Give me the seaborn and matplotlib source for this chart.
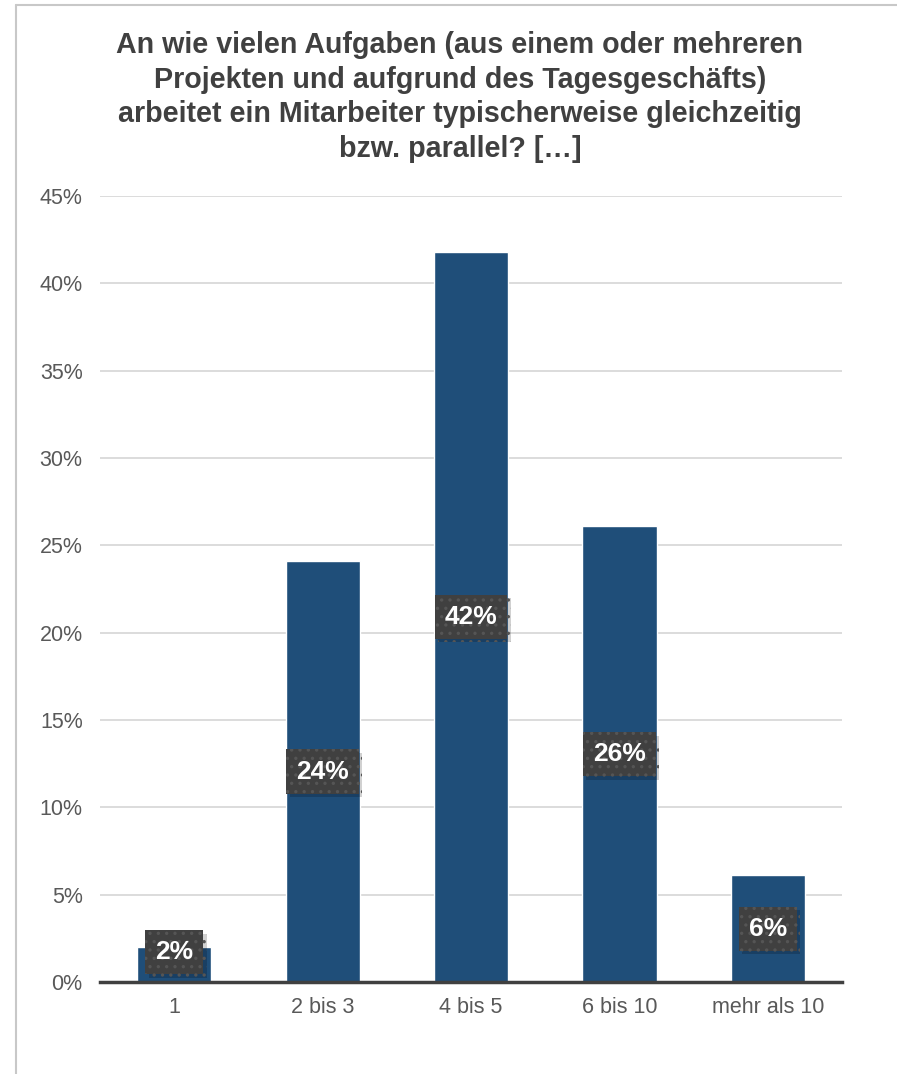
import seaborn as sns
from matplotlib import pyplot as plt
from matplotlib.lines import Line2D
from matplotlib import patheffects as pe
import pandas as pd

categories = ["1", "2 bis 3", "4 bis 5", "6 bis 10", "mehr als 10"]
shares = [2.0, 24.1, 41.8, 26.1, 6.1]
labels = ["2%", "24%", "42%", "26%", "6%"]
yticks = [0, 5, 10, 15, 20, 25, 30, 35, 40, 45]

title = ("An wie vielen Aufgaben (aus einem oder mehreren\n"
         "Projekten und aufgrund des Tagesgeschäfts)\n"
         "arbeitet ein Mitarbeiter typischerweise gleichzeitig\n"
         "bzw. parallel? […]")

df = pd.DataFrame({"cat": categories, "share": shares})

sns.set_theme(style="white")
plt.rcParams["font.family"] = ["Liberation Sans", "DejaVu Sans"]
plt.rcParams["hatch.linewidth"] = 1.2

W, H = 897, 1074
fig = plt.figure(figsize=(W / 100, H / 100), dpi=100)
ax = fig.add_axes([100 / W, 1 - 982 / H, 742 / W, (982 - 196) / H])

sns.barplot(data=df, x="cat", y="share", color="#1f4e79", width=0.5,
            saturation=1, ax=ax, zorder=3)

ax.set_ylim(0, 45)
ax.set_xlim(-0.5, 4.5)
ax.set_yticks(yticks)
ax.set_yticklabels([f"{t}%" for t in yticks], color="#595959", fontsize=15.5)
ax.set_xticklabels(categories, color="#595959", fontsize=15.5)
ax.set_xlabel("")
ax.set_ylabel("")
ax.yaxis.grid(True, color="#d9d9d9", linewidth=1.3, zorder=0)
ax.tick_params(axis="y", length=0, pad=12.5)
ax.tick_params(axis="x", which="major", length=0, pad=11)
ax.set_xticks([i - 0.5 for i in range(6)], minor=True)
ax.tick_params(axis="x", which="minor", length=5, width=2.5, color="#404040",
               direction="out")
for s in ["top", "right", "left"]:
    ax.spines[s].set_visible(False)
ax.spines["bottom"].set_color("#404040")
ax.spines["bottom"].set_linewidth(2.5)
ax.spines["bottom"].set_zorder(4)

for i, (v, lab) in enumerate(zip(shares, labels)):
    y = max(v / 2, 1.7)
    t = ax.text(i, y, lab, ha="center", va="center", fontsize=19,
                fontweight="bold", color="white", zorder=6,
                bbox=dict(boxstyle="square,pad=0.38", fc="#404040",
                          ec="#555555", lw=0, hatch=".."))
    t.get_bbox_patch().set_path_effects([
        pe.SimplePatchShadow(offset=(2.5, -2.5), shadow_rgbFace="black",
                             alpha=0.18),
        pe.Normal(),
    ])

fig.text(460 / W, 1 - 31 / H, title, ha="center", va="top", fontsize=20.6,
         fontweight="bold", color="#404040", linespacing=1.3)

# chart area border (top and left visible)
fig.add_artist(Line2D([16 / W, 1], [1 - 5 / H, 1 - 5 / H], color="#c8c8c8",
                      lw=1.5, transform=fig.transFigure))
fig.add_artist(Line2D([16 / W, 16 / W], [1 - 5 / H, 0], color="#c8c8c8",
                      lw=1.5, transform=fig.transFigure))

fig.savefig("out.png", dpi=100)
